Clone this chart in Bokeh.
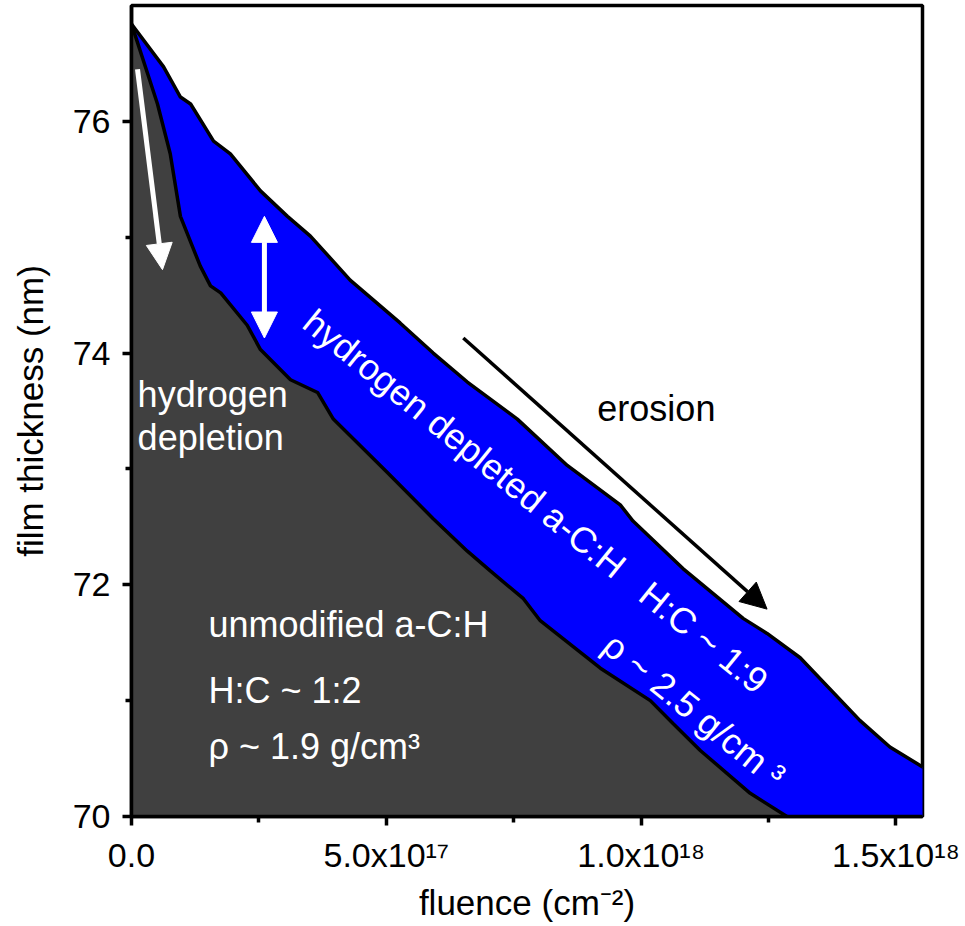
import numpy as np
from bokeh.plotting import figure
from bokeh.models import Range1d, FixedTicker, Arrow, NormalHead, Label
from bokeh.embed import file_html
from bokeh.resources import INLINE

# ---- data (fluence in cm^-2, thickness in nm) ----
surface_x = [0.0, 0.063e18, 0.096e18, 0.116e18, 0.161e18, 0.194e18, 0.253e18, 0.306e18,
             0.351e18, 0.429e18, 0.527e18, 0.592e18, 0.659e18, 0.757e18, 0.855e18,
             0.959e18, 0.984e18, 1.082e18, 1.200e18, 1.247e18, 1.312e18, 1.429e18,
             1.488e18, 1.555e18]
surface_y = [76.84, 76.47, 76.21, 76.15, 75.83, 75.72, 75.40, 75.18,
             75.01, 74.63, 74.26, 74.00, 73.75, 73.43, 73.03,
             72.69, 72.55, 72.14, 71.71, 71.58, 71.37, 70.83,
             70.60, 70.42]

interface_x = [0.0, 0.051e18, 0.076e18, 0.096e18, 0.135e18, 0.155e18, 0.175e18, 0.227e18,
               0.253e18, 0.312e18, 0.365e18, 0.396e18, 0.502e18, 0.592e18, 0.659e18,
               0.704e18, 0.769e18, 0.802e18, 0.920e18, 1.018e18, 1.063e18, 1.116e18,
               1.214e18, 1.286e18]
interface_y = [76.84, 76.15, 75.72, 75.18, 74.75, 74.58, 74.52, 74.24,
               74.03, 73.77, 73.66, 73.43, 72.97, 72.57, 72.29,
               72.12, 71.88, 71.69, 71.28, 71.00, 70.80, 70.57,
               70.20, 70.00]

x_ticks = [0.0, 5e17, 1e18, 1.5e18]
x_minor = [2.5e17, 7.5e17, 1.25e18]
x_labels = ["0.0", "5.0x10\u00b9\u2077", "1.0x10\u00b9\u2078", "1.5x10\u00b9\u2078"]
y_ticks = [70, 72, 74, 76]
y_minor = [71, 73, 75]
y_labels = ["70", "72", "74", "76"]

FONT = "Liberation Sans"
X_END = 1.552e18
Y_MIN, Y_MAX = 70.0, 77.0

p = figure(frame_width=791, frame_height=811,
           x_range=Range1d(0, X_END), y_range=Range1d(Y_MIN, Y_MAX),
           output_backend="svg", toolbar_location=None,
           min_border_left=131, min_border_right=43,
           min_border_top=5, min_border_bottom=110)
p.background_fill_color = "white"
p.border_fill_color = "white"
p.xgrid.visible = False
p.ygrid.visible = False
p.outline_line_color = "black"
p.outline_line_width = 3.5
p.outline_line_alpha = 1.0

# ---- filled regions ----
sx = np.array(surface_x); sy = np.array(surface_y)
ix = np.array(interface_x); iy = np.array(interface_y)

blue_x = np.concatenate([sx, [sx[-1]], ix[::-1]])
blue_y = np.concatenate([sy, [Y_MIN], iy[::-1]])
p.patch(blue_x, blue_y, fill_color="#0000ff", line_color=None)

dark_x = np.concatenate([ix, [0.0]])
dark_y = np.concatenate([iy, [Y_MIN]])
p.patch(dark_x, dark_y, fill_color="#404040", line_color=None)

p.line(surface_x, surface_y, line_color="black", line_width=3.5)
p.line(interface_x, interface_y, line_color="black", line_width=3.5)

# ---- axes ----
p.xaxis.ticker = FixedTicker(ticks=x_ticks, minor_ticks=x_minor)
p.yaxis.ticker = FixedTicker(ticks=y_ticks, minor_ticks=y_minor)
p.xaxis.major_label_overrides = {t: l for t, l in zip(x_ticks, x_labels)}
p.yaxis.major_label_overrides = {t: l for t, l in zip(y_ticks, y_labels)}
for ax in (p.xaxis[0], p.yaxis[0]):
    ax.axis_line_width = 3.5
    ax.axis_line_color = "black"
    ax.major_tick_line_width = 3.5
    ax.major_tick_line_color = "black"
    ax.minor_tick_line_width = 3.5
    ax.minor_tick_line_color = "black"
    ax.major_tick_in = 0
    ax.major_tick_out = 9
    ax.minor_tick_in = 0
    ax.minor_tick_out = 6
    ax.major_label_text_font = FONT
    ax.major_label_text_font_size = "34px"
    ax.major_label_text_color = "black"
    ax.axis_label_text_font = FONT
    ax.axis_label_text_font_size = "35px"
    ax.axis_label_text_font_style = "normal"
    ax.axis_label_text_color = "black"
p.xaxis.axis_label = "fluence (cm\u207b\u00b2)"
p.yaxis.axis_label = "film thickness (nm)"
p.xaxis.major_label_standoff = 10
p.yaxis.major_label_standoff = 12
p.xaxis.axis_label_standoff = 6
p.yaxis.axis_label_standoff = 20

# ---- arrows ----
p.add_layout(Arrow(x_start=1.18e16, y_start=76.45, x_end=6.08e16, y_end=74.72,
                   line_color="white", line_width=5,
                   end=NormalHead(size=26, fill_color="white", line_color="white")))
p.add_layout(Arrow(x_start=0.2608e18, y_start=74.13, x_end=0.2608e18, y_end=75.18,
                   line_color="white", line_width=5,
                   start=NormalHead(size=26, fill_color="white", line_color="white"),
                   end=NormalHead(size=26, fill_color="white", line_color="white")))
p.add_layout(Arrow(x_start=0.651e18, y_start=74.13, x_end=1.247e18, y_end=71.79,
                   line_color="black", line_width=3.5,
                   end=NormalHead(size=26, fill_color="black", line_color="black")))

# ---- text annotations ----
def lab(x, y, text, color="white", size="36px", angle=0.0):
    p.add_layout(Label(x=x, y=y, text=text, text_color=color, text_font=FONT,
                       text_font_size=size, text_align="left",
                       text_baseline="middle", angle=angle))

lab(1.2e16, 73.64, "hydrogen")
lab(1.2e16, 73.27, "depletion")
lab(0.151e18, 71.66, "unmodified a-C:H")
lab(0.151e18, 71.09, "H:C ~ 1:2")
lab(0.151e18, 70.60, "\u03c1 ~ 1.9 g/cm\u00b3")
lab(0.914e18, 73.52, "erosion", color="black")
ang = -np.deg2rad(39.0)
lab(0.347e18, 74.31, "hydrogen depleted a-C:H\u00a0\u00a0 H:C ~ 1:9", angle=ang)
lab(0.935e18, 71.52, "\u03c1 ~ 2.5 g/cm \u00b3", angle=ang)

open("out.html", "w").write(file_html(p, INLINE))
